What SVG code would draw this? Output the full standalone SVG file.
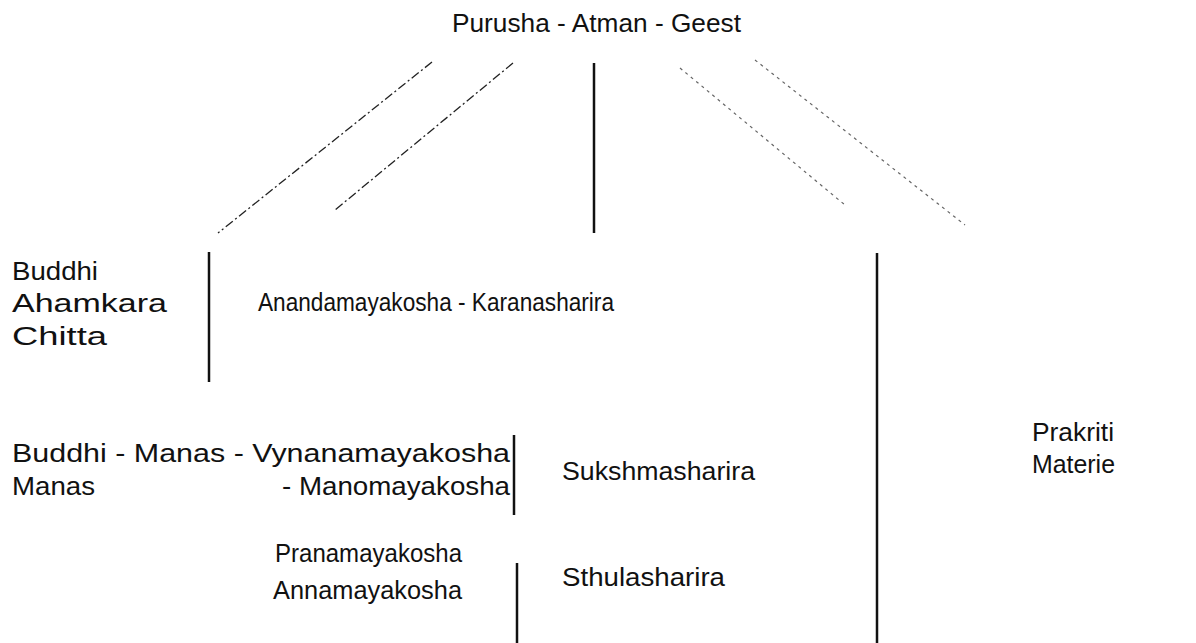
<svg xmlns="http://www.w3.org/2000/svg" width="1196" height="643" viewBox="0 0 1196 643">
<style>
text{font-family:"Liberation Sans",Arial,sans-serif;font-size:26px;fill:#111;}
.bar{stroke:#111;stroke-width:2.5;}
.dl{stroke:#222;stroke-width:1.3;stroke-dasharray:9 3 2 3;}
.dr{stroke:#666;stroke-width:1.2;stroke-dasharray:3 4;}
</style>
<rect width="1196" height="643" fill="#fff"/>
<g id="purusha"><text x="452" y="32" textLength="289" lengthAdjust="spacingAndGlyphs">Purusha - Atman - Geest</text></g>
<g id="connectors">
<line class="dl" x1="432" y1="62" x2="218" y2="233"/>
<line class="dl" x1="513" y1="63" x2="335" y2="210"/>
<line class="bar" x1="594" y1="63" x2="594" y2="233"/>
<line class="dr" x1="680" y1="68" x2="845" y2="205"/>
<line class="dr" x1="755" y1="60" x2="965" y2="225"/>
<line class="bar" x1="209" y1="252" x2="209" y2="382"/>
<line class="bar" x1="514" y1="435" x2="514" y2="515"/>
<line class="bar" x1="517" y1="563" x2="517" y2="643"/>
<line class="bar" x1="877" y1="253" x2="877" y2="643"/>
</g>
<g id="karana-left">
<text x="12" y="280" textLength="86" lengthAdjust="spacingAndGlyphs">Buddhi</text>
<text x="12" y="312" textLength="155" lengthAdjust="spacingAndGlyphs">Ahamkara</text>
<text x="12" y="345" textLength="95" lengthAdjust="spacingAndGlyphs">Chitta</text>
</g>
<g id="karana"><text x="258" y="311" textLength="356" lengthAdjust="spacingAndGlyphs">Anandamayakosha - Karanasharira</text></g>
<g id="suksh-left">
<text x="12" y="462" textLength="498" lengthAdjust="spacingAndGlyphs">Buddhi - Manas - Vynanamayakosha</text>
<text x="12" y="495" textLength="83" lengthAdjust="spacingAndGlyphs">Manas</text>
<text x="282" y="495" textLength="228" lengthAdjust="spacingAndGlyphs">- Manomayakosha</text>
</g>
<g id="suksh"><text x="562" y="480" textLength="193" lengthAdjust="spacingAndGlyphs">Sukshmasharira</text></g>
<g id="sthula-left">
<text x="275" y="562" textLength="187" lengthAdjust="spacingAndGlyphs">Pranamayakosha</text>
<text x="273" y="599" textLength="189" lengthAdjust="spacingAndGlyphs">Annamayakosha</text>
</g>
<g id="sthula"><text x="562" y="586" textLength="163" lengthAdjust="spacingAndGlyphs">Sthulasharira</text></g>
<g id="prakriti">
<text x="1032" y="441" textLength="82" lengthAdjust="spacingAndGlyphs">Prakriti</text>
<text x="1032" y="473" textLength="83" lengthAdjust="spacingAndGlyphs">Materie</text>
</g>
</svg>
